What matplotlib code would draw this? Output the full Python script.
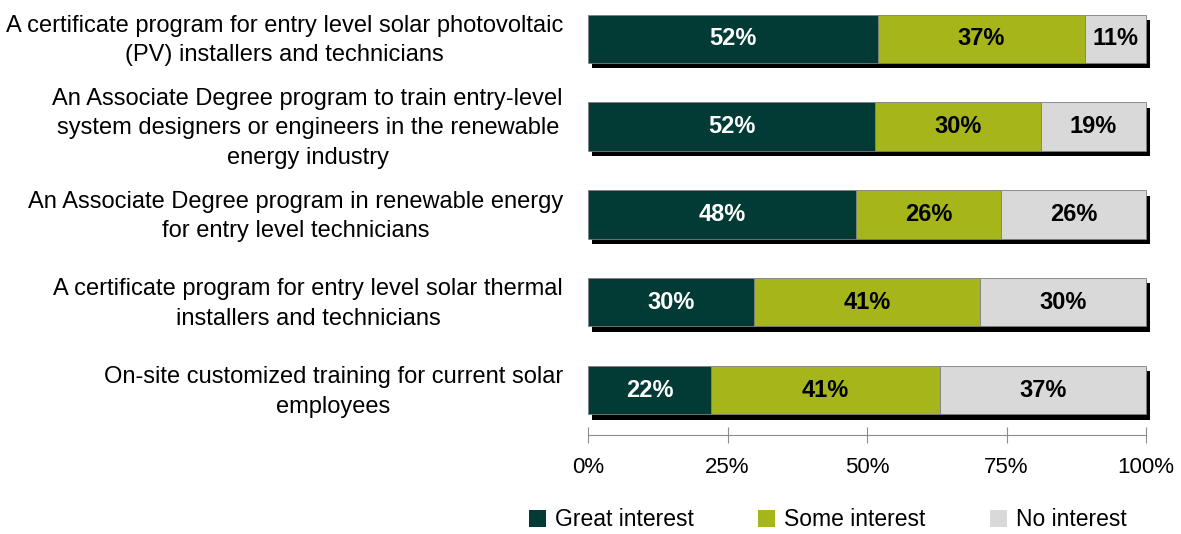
import numpy as np
import matplotlib.pyplot as plt
from matplotlib.patches import Patch

plt.rcParams['font.family'] = ['Liberation Sans', 'DejaVu Sans']

# survey answers, percent (as printed on the bars)
programs = [
    'A certificate program for entry level solar photovoltaic\n(PV) installers and technicians',
    'An Associate Degree program to train entry-level\nsystem designers or engineers in the renewable\nenergy industry',
    'An Associate Degree program in renewable energy\nfor entry level technicians',
    'A certificate program for entry level solar thermal\ninstallers and technicians',
    'On-site customized training for current solar\nemployees',
]
great = [52, 52, 48, 30, 22]
some = [37, 30, 26, 41, 41]
none_ = [11, 19, 26, 30, 37]

series = ['Great interest', 'Some interest', 'No interest']
colors = ['#023a35', '#a6b51a', '#d9d9d9']
text_colors = ['white', 'black', 'black']
ticks = [0, 25, 50, 75, 100]

# rounded numbers don't always add to 100, scale the bars to the full width
vals = np.array([great, some, none_], dtype=float)
shares = vals / vals.sum(axis=0) * 100

fig = plt.figure(figsize=(11.81, 5.34), dpi=100)
ax = fig.add_axes([588/1181, 1 - 435/534, (1146 - 588)/1181, 435/534])

y = np.arange(len(programs))
h = 0.55

# drop shadow behind each bar
ax.barh(y + 0.06, shares.sum(axis=0), left=0.75, height=h, color='black', zorder=1, clip_on=False)

left = np.zeros(len(programs))
for i in range(3):
    ax.barh(y, shares[i], left=left, height=h, color=colors[i], edgecolor='#7f7f7f',
            linewidth=0.6, zorder=2, clip_on=False)
    for j in range(len(programs)):
        ax.text(left[j] + shares[i][j] / 2, y[j], f'{int(vals[i][j])}%', ha='center', va='center',
                color=text_colors[i], fontsize=17, fontweight='bold', zorder=3)
    left += shares[i]

ax.set_xlim(0, 100)
ax.set_ylim(4.51, -0.44)
ax.set_yticks(y - 0.05)
ax.set_yticklabels(programs, fontsize=17, multialignment='center', linespacing=1.45)
ax.tick_params(axis='y', length=0, pad=18)
ax.set_xticks(ticks)
ax.set_xticklabels([f'{t}%' for t in ticks], fontsize=16)
ax.tick_params(axis='x', direction='inout', length=12, color='#8c8c8c', pad=10)

for s in ['top', 'right', 'left']:
    ax.spines[s].set_visible(False)
ax.spines['bottom'].set_color('#8c8c8c')

handles = [Patch(facecolor=c, label=l) for c, l in zip(colors, series)]
fig.legend(handles=handles, loc='center', bbox_to_anchor=(0.701, 1 - 520/534), ncol=3,
           frameon=False, fontsize=16.5, handlelength=0.75, handleheight=0.75,
           handletextpad=0.4, columnspacing=2.8)

fig.savefig('out.png', dpi=100)
